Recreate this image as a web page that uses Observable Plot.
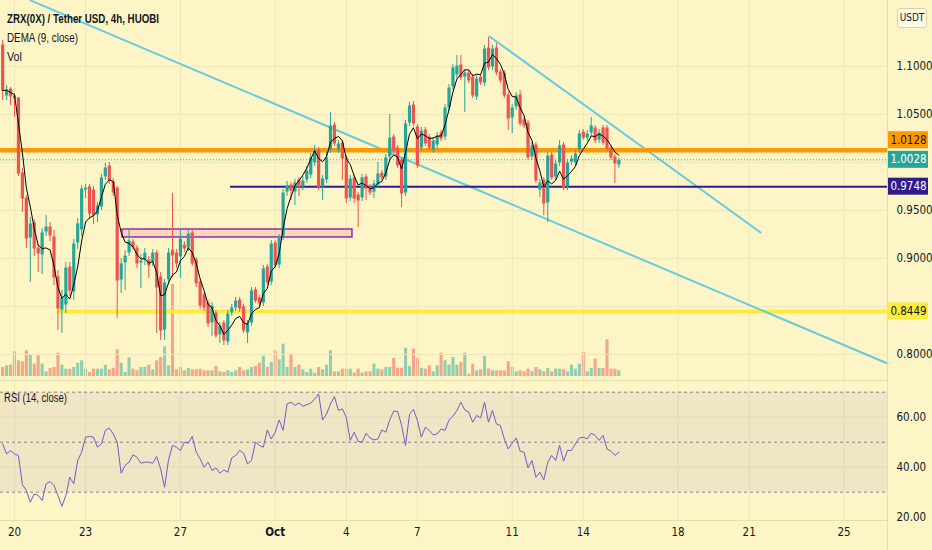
<!DOCTYPE html>
<html><head><meta charset="utf-8">
<script src="https://cdn.jsdelivr.net/npm/d3@7"></script>
<script src="https://cdn.jsdelivr.net/npm/@observablehq/plot@0.6"></script>
<style>
html,body{margin:0;padding:0;background:#fdf5c5;}
#root{position:relative;width:932px;height:550px;background:#fdf5c5;overflow:hidden;font-family:"DejaVu Sans Condensed","Liberation Sans",sans-serif;color:#131722;}
.lg{position:absolute;white-space:nowrap;line-height:14px;transform-origin:0 50%;font-family:"Liberation Sans",sans-serif;}
</style></head><body><div id="root"></div>
<script>
// ---------------- data ----------------
const open = [
1.1219,1.0688,1.0760,1.0688,1.0667,0.9885,0.9625,0.9208,0.9365,0.9104,
0.9031,0.9271,0.9323,0.9219,0.8802,0.8458,0.8510,0.8906,0.8646,0.9156,
0.9292,0.9708,0.9740,0.9708,0.9448,0.9531,0.9844,0.9958,0.9792,0.9729,
0.8771,0.8948,0.9052,0.9167,0.9104,0.8948,0.8979,0.8979,0.8958,0.9052,
0.8802,0.8250,0.8771,0.9083,0.9052,0.9010,0.9135,0.9104,0.9260,0.8979,
0.8750,0.8615,0.8531,0.8323,0.8427,0.8198,0.8323,0.8125,0.8427,0.8479,
0.8562,0.8490,0.8219,0.8323,0.8667,0.8583,0.8531,0.8906,0.8750,0.9156,
0.8927,0.9219,0.9687,0.9760,0.9687,0.9812,0.9740,0.9812,0.9865,0.9990,
1.0125,0.9740,0.9812,1.0125,1.0385,1.0125,1.0198,1.0042,0.9625,0.9833,
0.9656,0.9625,0.9844,0.9740,0.9687,0.9760,0.9885,0.9844,1.0052,1.0260,
1.0146,1.0021,0.9677,1.0406,1.0594,1.0365,1.0146,1.0333,1.0260,1.0125,
1.0177,1.0302,1.0260,1.0562,1.0781,1.0906,1.1010,1.0885,1.0927,1.0885,
1.0677,1.0885,1.0823,1.1187,1.0990,1.1187,1.0937,1.0927,1.0698,1.0458,
1.0573,1.0698,1.0437,1.0406,1.0052,1.0177,0.9708,0.9812,0.9573,1.0073,
0.9844,0.9990,1.0177,0.9740,1.0000,0.9990,1.0125,1.0312,1.0250,1.0302,
1.0354,1.0229,1.0354,1.0354,1.0146,1.0052,0.9969];
const high = [
1.1271,1.0802,1.0781,1.0719,1.0677,0.9937,0.9656,0.9427,0.9406,0.9146,
0.9312,0.9448,0.9375,0.9292,0.8875,0.8667,0.8958,0.8958,0.9198,0.9417,
0.9760,0.9771,0.9771,0.9750,0.9583,0.9875,0.9990,1.0000,0.9833,0.9750,
0.9000,0.9083,0.9292,0.9198,0.9135,0.9042,0.9104,0.9021,0.9094,0.9083,
0.8854,0.8781,0.9104,0.9677,0.9094,0.9292,0.9177,0.9302,0.9302,0.9010,
0.8781,0.8646,0.8562,0.8542,0.8458,0.8333,0.8354,0.8458,0.8521,0.8594,
0.8594,0.8521,0.8354,0.8698,0.8698,0.8615,0.8927,0.8937,0.9187,0.9187,
0.9250,0.9719,0.9802,0.9792,0.9823,0.9844,0.9854,0.9958,1.0094,1.0177,
1.0156,0.9865,1.0104,1.0521,1.0417,1.0229,1.0229,1.0073,0.9865,0.9865,
0.9687,0.9875,0.9875,0.9771,0.9812,1.0000,0.9917,1.0083,1.0500,1.0292,
1.0177,1.0052,1.0437,1.0625,1.0635,1.0396,1.0365,1.0365,1.0292,1.0260,
1.0312,1.0333,1.0604,1.0812,1.1021,1.1115,1.1115,1.0969,1.0958,1.0917,
1.0906,1.0917,1.1219,1.1302,1.1219,1.1240,1.0969,1.0958,1.0729,1.0604,
1.0729,1.0750,1.0469,1.0437,1.0208,1.0208,0.9823,0.9844,1.0104,1.0104,
1.0021,1.0229,1.0208,1.0031,1.0073,1.0125,1.0333,1.0344,1.0333,1.0469,
1.0385,1.0344,1.0385,1.0385,1.0177,1.0083,1.0042];
const low = [
1.0646,1.0646,1.0594,1.0469,0.9854,0.9479,0.9104,0.8750,0.9021,0.8854,
0.8833,0.9229,0.9177,0.8719,0.8250,0.8219,0.8427,0.8604,0.8562,0.9094,
0.9229,0.9625,0.9406,0.9354,0.9375,0.9500,0.9812,0.9771,0.9646,0.8375,
0.8635,0.8667,0.9021,0.9083,0.8896,0.8687,0.8927,0.8792,0.8917,0.8219,
0.8146,0.8146,0.8729,0.8802,0.8896,0.8792,0.9062,0.9073,0.8917,0.8698,
0.8469,0.8448,0.8281,0.8187,0.8167,0.8115,0.8094,0.8094,0.8396,0.8448,
0.8437,0.8219,0.8115,0.8292,0.8531,0.8500,0.8500,0.8719,0.8719,0.8896,
0.8896,0.9187,0.9646,0.9604,0.9552,0.9646,0.9708,0.9781,0.9833,0.9958,
0.9708,0.9604,0.9781,1.0094,1.0167,1.0094,0.9812,0.9573,0.9594,0.9573,
0.9323,0.9594,0.9604,0.9656,0.9625,0.9729,0.9812,0.9812,1.0021,1.0094,
0.9937,0.9531,0.9646,1.0375,1.0375,0.9937,1.0115,1.0167,1.0125,1.0094,
1.0146,1.0219,1.0229,1.0531,1.0750,1.0875,1.0854,1.0521,1.0823,1.0667,
1.0646,1.0802,1.0792,1.0958,1.0958,1.0906,1.0823,1.0667,1.0333,1.0302,
1.0542,1.0375,1.0354,1.0021,1.0021,0.9781,0.9635,0.9448,0.9375,0.9812,
0.9812,0.9958,0.9708,0.9708,0.9969,0.9958,1.0094,1.0229,1.0219,1.0271,
1.0198,1.0198,1.0177,1.0115,1.0021,0.9781,0.9937];
const close = [
1.0750,1.0760,1.0688,1.0667,0.9885,0.9625,0.9208,0.9365,0.9104,0.9052,
0.9271,0.9333,0.9240,0.8802,0.8479,0.8594,0.8906,0.8667,0.9156,0.9365,
0.9729,0.9740,0.9469,0.9448,0.9552,0.9844,0.9948,0.9812,0.9687,0.8771,
0.8948,0.9031,0.9187,0.9115,0.8948,0.8979,0.9062,0.8927,0.9062,0.8698,
0.8250,0.8750,0.9062,0.9031,0.8948,0.9208,0.9104,0.9260,0.8948,0.8740,
0.8510,0.8490,0.8323,0.8510,0.8198,0.8302,0.8146,0.8427,0.8490,0.8562,
0.8479,0.8250,0.8323,0.8667,0.8562,0.8531,0.8896,0.8750,0.9156,0.8927,
0.9219,0.9687,0.9760,0.9708,0.9792,0.9740,0.9812,0.9917,1.0052,1.0125,
0.9740,0.9833,1.0052,1.0385,1.0198,1.0198,1.0042,0.9625,0.9833,0.9625,
0.9604,0.9844,0.9729,0.9687,0.9781,0.9885,0.9844,1.0052,1.0260,1.0125,
0.9969,0.9677,1.0406,1.0594,1.0406,0.9969,1.0333,1.0198,1.0156,1.0229,
1.0281,1.0250,1.0573,1.0781,1.0990,1.1010,1.0885,1.0937,1.0854,1.0698,
1.0875,1.0833,1.1187,1.0990,1.1187,1.0937,1.0854,1.0698,1.0458,1.0573,
1.0698,1.0406,1.0385,1.0052,1.0177,0.9812,0.9792,0.9573,1.0073,0.9844,
0.9990,1.0177,0.9740,1.0000,1.0042,1.0094,1.0302,1.0260,1.0302,1.0385,
1.0229,1.0312,1.0208,1.0146,1.0052,0.9990,1.0028];
const volume = [
9,10.7,11.3,24.7,15.7,14.7,25.7,21.3,12.3,20.7,
12.3,4.7,8,9,23.3,11.3,7.3,7.3,9,13.3,
15.7,7.3,4,7.3,7.3,7.3,11.3,6.7,8.3,26.7,
13.3,4,18.7,7.3,5.7,9,9,11.3,6.7,15.7,
19,29.7,10.7,92,6.7,9,5.7,8,6.7,6.7,
7.3,5.7,5.7,5.7,10,4.7,4,5.7,4,5.7,
9,5.7,6.7,9,10,13.3,20,9,14,25.7,
16.7,32.3,9,22.3,9,11.3,6.7,4,
7.3,3.3,9,6.7,11.3,25.7,4.7,4.7,7.3,7.3,
7.3,3.3,7.3,3.3,4.7,4.7,12.3,7.3,6.7,9,
9,18,8.3,8.3,28.3,10,27.3,18,8.3,7.3,
10.7,4.7,10.7,23.3,15.7,11.3,19,11.3,14,23.3,
2.3,12.3,5.7,6.7,20,7.3,5.7,5.7,5.7,5.7,
14.7,9,4.7,5.7,4.7,7.3,4.7,9,6.7,4.7,
8,4.7,7.3,7.3,6.7,4.7,11.3,7.3,12.3,24,
4.7,8,17.3,8,8,36.7,7.3,7.3,5.7];
const rsi = [
49.3,45.3,46.7,45.3,44.7,33,30.7,26,29.3,28.7,
26.7,33.3,34.3,32.7,28.7,24.3,28.7,36,33.3,
42.7,46,52,52.3,52,48,49.3,54.7,55.6,53.3,
50,37.6,40.7,42,45,44,41.6,42,42,41.6,
44.3,39.3,32,43,48.7,48,46.7,50,49.6,52.3,
46,43.3,40,42,38.7,39.7,37.6,38.9,38,43.7,
44.7,46.7,45.6,41.3,42.7,50,48.7,48,54.9,51.3,
54,58.9,54.7,65.3,66,64.7,65.7,64.4,65,65.6,
67.3,69.3,58.9,61.3,65.3,68.3,62.7,63.3,60,
50.7,54,50.3,50,53.6,51.7,50.9,51.3,54.9,54,
58.9,62.4,62.3,56.7,48.7,61.1,63.1,58.7,52,56,
54.7,52.9,53.3,55.3,54.7,58.9,60.3,62.7,66,62.9,
62,58,60.7,59.7,66,58,62.7,57.3,56.7,
51.3,47.3,49.6,51.7,46.4,46,39.7,42.7,36,38,
34.9,42,44.7,42.7,48.7,42.4,46.7,46.7,49.3,51.7,
52,51.3,53.6,52.7,50.7,52.7,47.3,46.4,44.7,46];

const priceTicks = [1.10, 1.05, 1.00, 0.95, 0.90, 0.85, 0.80];
const priceTickLabels = [1.10, 1.05, 0.95, 0.90, 0.80];
const rsiTicks = [60, 40, 20];
const rsiLevels = [70, 50, 30];
const dateTicks = ["2021-09-20","2021-09-23","2021-09-27","2021-10-01","2021-10-04","2021-10-07","2021-10-11","2021-10-14","2021-10-18","2021-10-21","2021-10-25"];
const dateLabels = ["20","23","27","Oct","4","7","11","14","18","21","25"];

const resistance = 1.0128;      // orange
const lastPrice = 1.0028;       // dotted current price
const support = 0.9748;         // navy
const baseSupport = 0.8449;     // yellow
const supportFrom = "2021-09-29T02:45Z";
const baseSupportFrom = "2021-09-21T19:30Z";
const zone = {start: "2021-09-24T13:20Z", end: "2021-10-04T06:15Z", low: 0.9219, high: 0.9302};
const trendLong = [{t: "2021-09-20T16:10Z", p: 1.1688}, {t: "2021-10-26T20:00Z", p: 0.7906}];
const trendShort = [{t: "2021-10-10T01:00Z", p: 1.1313}, {t: "2021-10-21T11:30Z", p: 0.9271}];
const firstBar = "2021-09-19T12:00Z";
const barHours = 4;

// ---------------- layout ----------------
const W = 932, PANE_H = 380, RSI_H = 170, RIGHT = 45, PX_PER_BAR = 3.95;
const H4 = barHours * 3600e3;
const xStart = new Date(Date.UTC(2021, 8, 20) - 14 / PX_PER_BAR * H4);
const xEnd = new Date(+xStart + (W - RIGHT) / PX_PER_BAR * H4);
const PX_PER_UNIT = 960;
const priceTop = 1.10 + 66 / PX_PER_UNIT, priceBottom = priceTop - PANE_H / PX_PER_UNIT;
const UP = "#26a69a", DOWN = "#ef5350", GRID = "#efe7bb", FONT = '"DejaVu Sans Condensed","Liberation Sans",sans-serif';
const TXT = "#131722";

const t0 = Date.parse(firstBar);
const candles = close.map((c, i) => ({t: new Date(t0 + i * H4), o: open[i], h: high[i], l: low[i], c, up: c >= open[i], v: volume[i], r: rsi[i]}));
function ema(a, n) { const k = 2 / (n + 1); let e = a[0]; return a.map((v, i) => i === 0 ? e : (e = v * k + e * (1 - k))); }
const e1 = ema(close, 9), e2 = ema(e1, 9);
const dema = candles.map((d, i) => ({t: d.t, v: 2 * e1[i] - e2[i]}));
const ticks = dateTicks.map(s => new Date(s + "T00:00Z"));
const tickObjs = ticks.map((t, i) => ({t, label: dateLabels[i]}));
const P = s => new Date(s);

const root = document.getElementById("root");
const baseStyle = {background: "transparent", fontFamily: FONT, fontSize: "11px", color: TXT, overflow: "visible"};
function place(el, left, top) { el.style.position = "absolute"; el.style.left = left + "px"; el.style.top = top + "px"; root.appendChild(el); }

// volume layer
place(Plot.plot({
  width: W, height: PANE_H, marginLeft: 0, marginRight: RIGHT, marginTop: 0, marginBottom: 4,
  x: {type: "utc", domain: [xStart, xEnd], axis: null},
  y: {domain: [0, PANE_H - 4], axis: null},
  style: baseStyle,
  marks: [
    Plot.ruleX(candles, {x: "t", y1: 0, y2: "v", stroke: d => d.up ? UP : DOWN, strokeOpacity: 0.5, strokeWidth: 3.1})
  ]
}), 0, 0);

// price layer
place(Plot.plot({
  width: W, height: PANE_H, marginLeft: 0, marginRight: RIGHT, marginTop: 0, marginBottom: 0,
  x: {type: "utc", domain: [xStart, xEnd], axis: null},
  y: {domain: [priceBottom, priceTop]},
  style: baseStyle,
  marks: [
    Plot.ruleY(priceTicks, {stroke: GRID}),
    Plot.ruleX(ticks, {stroke: GRID}),
    Plot.axisY(priceTickLabels, {anchor: "right", tickSize: 0, tickPadding: 9, tickFormat: d => d.toFixed(4), label: null, fill: TXT, fontSize: 11.5}),
    Plot.rect([zone], {x1: d => P(d.start), x2: d => P(d.end), y1: "low", y2: "high", fill: "#e91e63", fillOpacity: 0.13, stroke: "#9c27b0", strokeWidth: 1.5}),
    Plot.ruleY([baseSupport], {x1: P(baseSupportFrom), x2: xEnd, stroke: "#ffeb3b", strokeWidth: 4}),
    Plot.line(trendLong, {x: d => P(d.t), y: "p", stroke: "#63cbe0", strokeWidth: 2}),
    Plot.line(trendShort, {x: d => P(d.t), y: "p", stroke: "#63cbe0", strokeWidth: 2}),
    Plot.ruleY([resistance], {stroke: "#ff9800", strokeWidth: 4.5}),
    Plot.ruleY([lastPrice], {stroke: UP, strokeWidth: 1, strokeDasharray: "1,2"}),
    Plot.ruleY([support], {x1: P(supportFrom), x2: xEnd, stroke: "#2e1b8c", strokeWidth: 2}),
    Plot.ruleX(candles, {x: "t", y1: "l", y2: "h", stroke: d => d.up ? UP : DOWN, strokeWidth: 1}),
    Plot.ruleX(candles, {x: "t", y1: "o", y2: "c", stroke: d => d.up ? UP : DOWN, strokeWidth: 3.2, insetTop: -0.5, insetBottom: -0.5}),
    Plot.line(dema, {x: "t", y: "v", stroke: "#000", strokeWidth: 1})
  ]
}), 0, 0);

// price tags on the right scale
const tags = [
  {p: resistance, fill: "#ff9800", text: TXT, shiftPx: -10},
  {p: lastPrice, fill: "#26a69a", text: "#ffffff", shiftPx: 0},
  {p: support, fill: "#2e1b8c", text: "#ffffff", shiftPx: 0},
  {p: baseSupport, fill: "#ffeb3b", text: TXT, shiftPx: 0}
];
const halfTag = 8.5 / PX_PER_UNIT;
const tagY = d => d.p - d.shiftPx / PX_PER_UNIT;
place(Plot.plot({
  width: RIGHT, height: PANE_H, marginLeft: 0, marginRight: 0, marginTop: 0, marginBottom: 0,
  x: {domain: [0, RIGHT], axis: null},
  y: {domain: [priceBottom, priceTop], axis: null},
  style: baseStyle,
  marks: [
    Plot.rect(tags, {x1: 0, x2: 41, y1: d => tagY(d) - halfTag, y2: d => tagY(d) + halfTag, fill: d => d.fill}),
    Plot.text(tags, {x: 21, y: tagY, text: d => d.p.toFixed(4), fill: d => d.text, fontSize: 11.5})
  ]
}), W - RIGHT, 0);

// RSI pane
const rsiTop = 70 + 11.7 / 2.5, rsiBottom = rsiTop - 140 / 2.5;
place(Plot.plot({
  width: W, height: RSI_H, marginLeft: 0, marginRight: RIGHT, marginTop: 0, marginBottom: 30,
  x: {type: "utc", domain: [xStart, xEnd], axis: null},
  y: {domain: [rsiBottom, rsiTop]},
  style: baseStyle,
  marks: [
    Plot.ruleX(ticks, {stroke: GRID}),
    Plot.ruleY([rsiTicks[0], rsiTicks[1]], {stroke: GRID}),
    Plot.rect([{lo: rsiLevels[2], hi: rsiLevels[0]}], {x1: xStart, x2: xEnd, y1: "lo", y2: "hi", fill: "#7e57c2", fillOpacity: 0.1}),
    Plot.ruleY(rsiLevels, {stroke: "#787b86", strokeDasharray: "3,3", strokeOpacity: 0.9}),
    Plot.line(candles, {x: "t", y: "r", stroke: "#7e57c2", strokeWidth: 1}),
    Plot.axisY(rsiTicks, {anchor: "right", tickSize: 0, tickPadding: 9, tickFormat: d => d.toFixed(2), label: null, fill: TXT, fontSize: 11.5}),
    Plot.frame({anchor: "top", stroke: "#e6deb0"}),
    Plot.frame({anchor: "bottom", stroke: "#e6deb0"}),
    Plot.text(tickObjs.filter(d => d.label !== "Oct"), {x: "t", text: "label", frameAnchor: "bottom", dy: 15, fill: TXT, fontSize: 11.5}),
    Plot.text(tickObjs.filter(d => d.label === "Oct"), {x: "t", text: "label", frameAnchor: "bottom", dy: 15, fill: TXT, fontSize: 11.5, fontWeight: "bold"})
  ]
}), 0, PANE_H);

// separators and legends
const sep = document.createElement("div");
sep.style.cssText = `position:absolute;left:${W - RIGHT}px;top:0;width:1px;height:550px;background:#e6deb0;`;
root.appendChild(sep);
function label(text, left, top, size, weight, targetWidth) {
  const d = document.createElement("div"); d.className = "lg"; d.textContent = text;
  d.style.left = left + "px"; d.style.top = top + "px"; d.style.fontSize = size + "px"; if (weight) d.style.fontWeight = weight;
  root.appendChild(d);
  const w = d.getBoundingClientRect().width;
  if (w > 0) d.style.transform = `scaleX(${targetWidth / w})`;
}
label("ZRX(0X) / Tether USD, 4h, HUOBI", 7, 12, 13.5, "bold", 152);
label("DEMA (9, close)", 7, 31, 13.5, null, 71);
label("Vol", 7, 50, 13.5, null, 15);
label("RSI (14, close)", 4, 391, 12, null, 63);
const usdt = document.createElement("div");
usdt.textContent = "USDT";
usdt.style.cssText = "position:absolute;left:897px;top:8px;width:28px;height:18px;line-height:18px;border:1px solid #d9d2ab;border-radius:3px;background:#fffbe3;font-size:10px;text-align:center;";
root.appendChild(usdt);
</script></body></html>
